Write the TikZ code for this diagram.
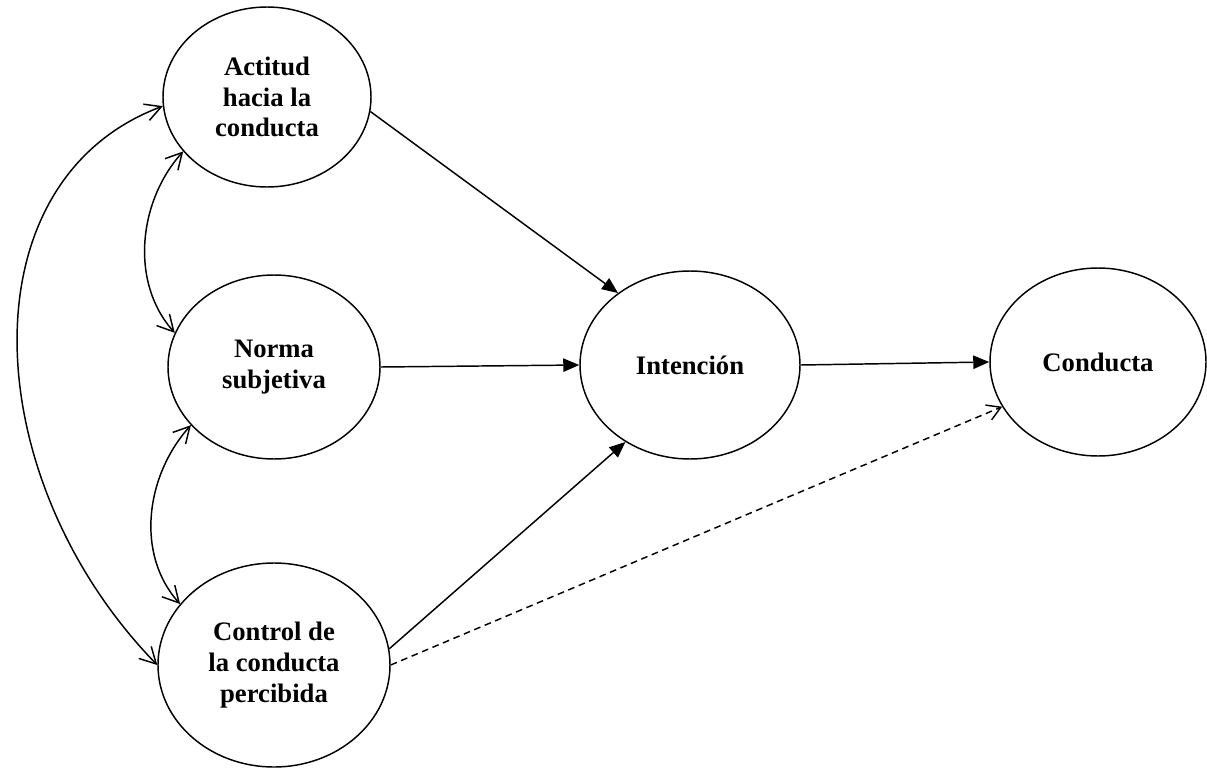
\documentclass[tikz,border=0pt]{standalone}
\usepackage{fontspec}
\setmainfont{Liberation Serif}
\usetikzlibrary{shapes.geometric,arrows.meta}
\begin{document}
\begin{tikzpicture}[x=0.75pt,y=-0.75pt,
  every node/.style={font=\bfseries\fontsize{20}{23}\selectfont},
  oval/.style 2 args={ellipse, draw, line width=1.1pt, inner sep=0pt, align=center,
    minimum width=#1*0.75pt, minimum height=#2*0.75pt},
  link/.style={line width=1.1pt, -{Triangle[length=12pt,width=10pt]}},
  assoc/.style={line width=1.1pt,
    {Straight Barb[length=12pt,width=13pt]}-{Straight Barb[length=12pt,width=13pt]}},
  direct/.style={line width=1.1pt, dash pattern=on 5pt off 3.5pt,
    -{Straight Barb[length=10pt,width=12pt]}}
]
\useasboundingbox (0,0) rectangle (1207,771);

% constructs of the model
\node[oval={208}{180}] (act) at (267,97)  {Actitud\\hacia la\\conducta};
\node[oval={212}{184}] (nor) at (274,367) {Norma\\subjetiva};
\node[oval={232}{204}] (ctl) at (274,665) {Control de\\la conducta\\percibida};
\node[oval={220}{188}] (int) at (690,365) {Intención};
\node[oval={216}{188}] (con) at (1098,362) {Conducta};

% direct effects
\draw[link] (act.352) -- (int.135);
\draw[link] (nor.east) -- (int.west);
\draw[link] (ctl.8) -- (int.230);
\draw[link] (int.east) -- (con.west);
\draw[direct] (ctl.east) -- (con.205);

% correlations between the predictors
\draw[assoc] (act.213) .. controls +(-45,50) and +(-45,-50) .. (nor.161);
\draw[assoc] (nor.215) .. controls +(-45,50) and +(-45,-50) .. (ctl.147);
\draw[assoc] (act.185) .. controls +(-200,75) and +(-180,-185) .. (ctl.180);
\end{tikzpicture}
\end{document}
